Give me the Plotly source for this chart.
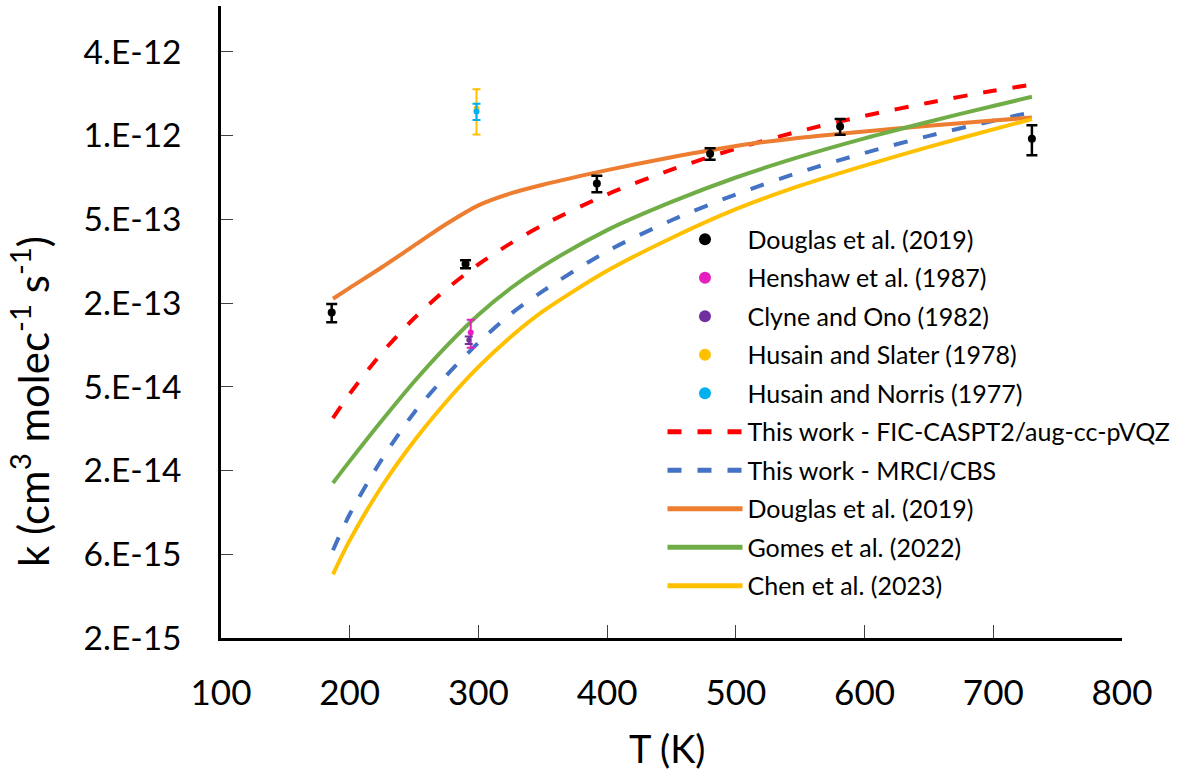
import plotly.graph_objects as go

# ---------------- data ----------------
T_lines = [187, 200, 225, 250, 275, 300, 325, 350, 400, 450, 500, 550, 600, 650, 700, 730]
k_caspt2 = [3.575e-14, 4.924e-14, 8.425e-14, 1.327e-13, 1.941e-13, 2.688e-13, 3.545e-13, 4.508e-13,
            6.737e-13, 9.328e-13, 1.227e-12, 1.548e-12, 1.888e-12, 2.245e-12, 2.624e-12, 2.843e-12]
k_mrci = [6.323e-15, 1.014e-14, 2.087e-14, 3.842e-14, 6.245e-14, 9.632e-14, 1.400e-13, 1.894e-13,
          3.197e-13, 4.801e-13, 6.737e-13, 9.028e-13, 1.161e-12, 1.452e-12, 1.772e-12, 1.984e-12]
k_douglas_fit = [1.714e-13, 1.977e-13, 2.591e-13, 3.440e-13, 4.568e-13, 5.838e-13, 6.826e-13, 7.652e-13,
                 9.268e-13, 1.098e-12, 1.273e-12, 1.416e-12, 1.540e-12, 1.660e-12, 1.777e-12, 1.846e-12]
k_gomes = [1.529e-14, 2.036e-14, 3.469e-14, 5.772e-14, 9.188e-14, 1.391e-13, 1.967e-13, 2.626e-13,
           4.217e-13, 6.105e-13, 8.410e-13, 1.105e-12, 1.406e-12, 1.749e-12, 2.150e-12, 2.426e-12]
k_chen = [4.614e-15, 7.200e-15, 1.464e-14, 2.651e-14, 4.440e-14, 7.010e-14, 1.038e-13, 1.451e-13,
          2.472e-13, 3.806e-13, 5.555e-13, 7.553e-13, 9.831e-13, 1.257e-12, 1.581e-12, 1.810e-12]

T_douglas = [186, 290, 392, 480, 581, 730]
k_douglas = [1.43e-13, 2.70e-13, 7.78e-13, 1.148e-12, 1.644e-12, 1.397e-12]
err_douglas = [0.17e-13, 0.14e-13, 0.84e-13, 0.088e-12, 0.17e-12, 0.27e-12]

T_henshaw = [294]
k_henshaw = [1.10e-13]
err_henshaw = [0.20e-13]

T_clyne = [292.5]
k_clyne = [9.96e-14]
err_clyne = [0.05e-13]

T_slater = [298.5]
k_slater = [2.08e-12]
err_slater = [0.60e-12]

T_norris = [298.5]
k_norris = [2.00e-12]
err_norris = [0.21e-12]

y_tickvals = [2e-15 * 3 ** i for i in range(8)]
y_ticktext = ['2.E-15', '6.E-15', '2.E-14', '5.E-14', '2.E-13', '5.E-13', '1.E-12', '4.E-12']
x_tickvals = [100, 200, 300, 400, 500, 600, 700, 800]

FONT = 'Lato'

fig = go.Figure()

# ---------------- lines ----------------
line_specs = [
    ('This work - FIC-CASPT2/aug-cc-pVQZ', k_caspt2, '#FF0000', '14px,16px', 6),
    ('This work - MRCI/CBS', k_mrci, '#4472C4', '14px,16px', 7),
    ('Douglas et al. (2019)', k_douglas_fit, '#ED7D31', 'solid', 8),
    ('Gomes et al. (2022)', k_gomes, '#70AD47', 'solid', 9),
    ('Chen et al. (2023)', k_chen, '#FFC000', 'solid', 10),
]
for name, ks, col, dash, rank in line_specs:
    fig.add_trace(go.Scatter(
        x=T_lines, y=ks, mode='lines', name=name, legendrank=rank, legendgroup='g%d' % rank,
        line=dict(color=col, width=4, dash=dash, shape='spline', smoothing=0.8),
    ))

# ---------------- points ----------------
pt_specs = [
    ('Douglas et al. (2019)', T_douglas, k_douglas, err_douglas, 'black', 8, 2.5, 5.5, 1),
    ('Henshaw et al. (1987)', T_henshaw, k_henshaw, err_henshaw, '#E61EBE', 6, 2, 4, 2),
    ('Clyne and Ono (1982)', T_clyne, k_clyne, err_clyne, '#7030A0', 5, 2, 4, 3),
    ('Husain and Slater (1978)', T_slater, k_slater, err_slater, '#FFC000', 6, 2, 4, 4),
    ('Husain and Norris (1977)', T_norris, k_norris, err_norris, '#00B0F0', 6, 2, 4, 5),
]
for name, xs, ys, es, col, ms, th, w, rank in pt_specs:
    fig.add_trace(go.Scatter(
        x=xs, y=ys, mode='markers', name=name, legendrank=rank, legendgroup='g%d' % rank,
        marker=dict(color=col, size=ms),
        error_y=dict(type='data', array=es, symmetric=True, color=col, thickness=th, width=w),
    ))

fig.update_layout(
    width=1183, height=777, autosize=False,
    paper_bgcolor='white', plot_bgcolor='white',
    margin=dict(l=221, r=61, t=6, b=139),
    font=dict(family=FONT, color='black'),
    showlegend=True,
    legend=dict(
        x=0.49, y=0.667, xanchor='left', yanchor='top',
        bgcolor='rgba(0,0,0,0)', font=dict(family=FONT, size=25, color='black'),
        itemwidth=75, itemsizing='constant', tracegroupgap=3,
    ),
    xaxis=dict(
        range=[100, 800], tickvals=x_tickvals, showgrid=False, zeroline=False,
        showline=True, linecolor='black', linewidth=2.5, automargin=False,
        ticks='inside', ticklen=13, tickwidth=1, tickcolor='#404040',
        tickfont=dict(family=FONT, size=35), ticklabelstandoff=22,
    ),
    yaxis=dict(
        type='log', range=[-14.699, -11.098], tickvals=y_tickvals, ticktext=y_ticktext,
        showgrid=False, zeroline=False, showline=True, linecolor='black', linewidth=2.5,
        automargin=False,
        ticks='inside', ticklen=12, tickwidth=1, tickcolor='#404040',
        tickfont=dict(family=FONT, size=33.5), ticklabelstandoff=30,
    ),
    annotations=[
        dict(text='k (cm<sup>3</sup> molec<sup>-1</sup> s<sup>-1</sup>)',
             xref='paper', yref='paper', x=-0.212, y=0.375, xanchor='center', yanchor='middle',
             textangle=-90, showarrow=False, font=dict(family=FONT, size=42, color='black')),
        dict(text='T (K)', xref='paper', yref='paper', x=0.496, y=-0.174,
             xanchor='center', yanchor='middle', showarrow=False,
             font=dict(family=FONT, size=38, color='black')),
    ],
)

fig.write_html('out.html', config={'displayModeBar': False},
               post_script="document.body.style.margin='0px';")
